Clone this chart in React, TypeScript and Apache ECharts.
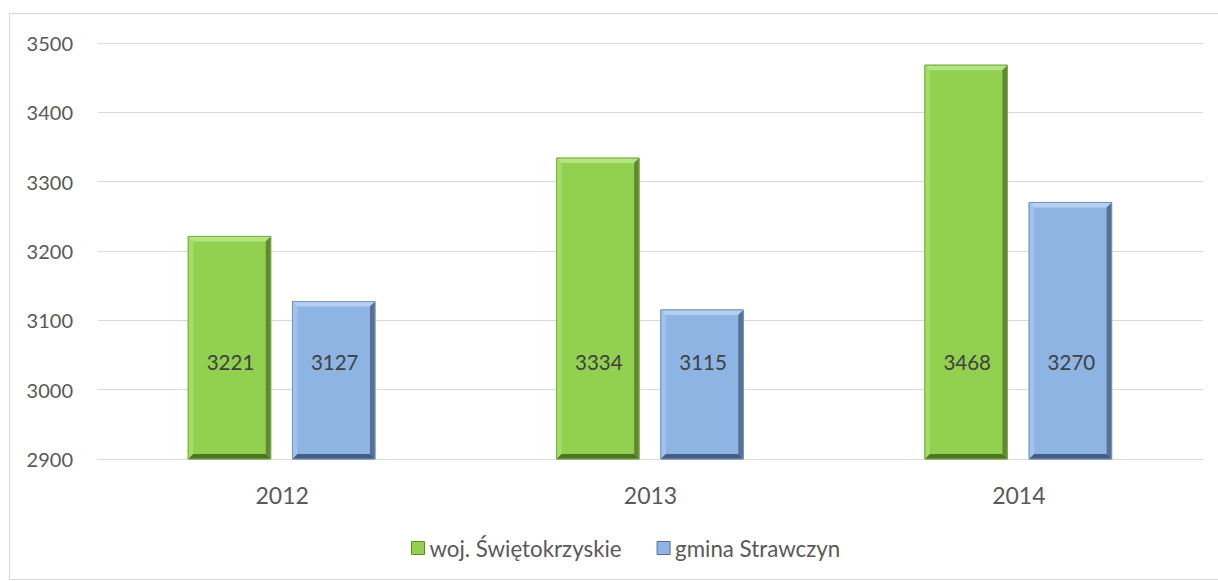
import React, { useEffect, useRef } from "react";
import * as echarts from "echarts";

const categories = ["2012", "2013", "2014"];
const wojValues = [3221, 3334, 3468];
const gminaValues = [3127, 3115, 3270];
const seriesNames = ["woj. Świętokrzyskie", "gmina Strawczyn"];

const AXIS_MIN = 2900;
const AXIS_MAX = 3500;
const LABEL_VALUE = 3040;

const FONT = "Lato, 'Open Sans', sans-serif";

type Pal = { main: string; top: string; left: string; right: string; bottom: string; stroke: string };
const greenPal: Pal = { main: "#92D050", top: "#b5e483", left: "#a6dc6a", right: "#5d8c2f", bottom: "#4c7526", stroke: "#7fae48" };
const bluePal: Pal = { main: "#8EB4E3", top: "#b5cff0", left: "#a4c2ea", right: "#566f96", bottom: "#465c80", stroke: "#7596c0" };

function makeRender(pal: Pal, offset: number) {
  return (params: any, api: any) => {
    const idx = api.value(0);
    const val = api.value(1);
    const base = api.coord([idx, AXIS_MIN]);
    const top = api.coord([idx, val]);
    const lab = api.coord([idx, LABEL_VALUE]);
    const band = api.size([1, 0])[0];
    const w = band * 0.224;
    const cx = base[0] + offset * band;
    const x0 = cx - w / 2;
    const x1 = cx + w / 2;
    const y0 = top[1];
    const y1 = base[1];
    const b = 5;
    return {
      type: "group",
      children: [
        { type: "rect", shape: { x: x0, y: y0, width: w, height: y1 - y0 }, style: { fill: pal.main, stroke: pal.stroke, lineWidth: 1 } },
        { type: "polygon", shape: { points: [[x0, y0], [x1, y0], [x1 - b, y0 + b], [x0 + b, y0 + b]] }, style: { fill: pal.top } },
        { type: "polygon", shape: { points: [[x0, y0], [x0 + b, y0 + b], [x0 + b, y1 - b], [x0, y1]] }, style: { fill: pal.left } },
        { type: "polygon", shape: { points: [[x1, y0], [x1, y1], [x1 - b, y1 - b], [x1 - b, y0 + b]] }, style: { fill: pal.right } },
        { type: "polygon", shape: { points: [[x0, y1], [x0 + b, y1 - b], [x1 - b, y1 - b], [x1, y1]] }, style: { fill: pal.bottom } },
        { type: "rect", shape: { x: x0, y: y0, width: w, height: y1 - y0 }, style: { fill: "none", stroke: pal.stroke, lineWidth: 1 } },
        {
          type: "text",
          x: cx + 1,
          y: lab[1],
          style: { text: String(val), fill: "#404040", font: `20.5px ${FONT}`, align: "center", verticalAlign: "middle" },
        },
      ],
    };
  };
}

export default function App() {
  const ref = useRef<HTMLDivElement>(null);
  useEffect(() => {
    if (!ref.current) return;
    const chart = echarts.init(ref.current, undefined, { renderer: "svg" });
    chart.setOption({
      animation: false,
      backgroundColor: "#ffffff",
      textStyle: { fontFamily: FONT },
      graphic: [
        { type: "rect", shape: { x: 9.5, y: 13.5, width: 1220, height: 566 }, style: { fill: "none", stroke: "#d9d9d9", lineWidth: 1 }, silent: true },
      ],
      grid: { left: 98, right: 15, top: 43, bottom: 122 },
      legend: {
        bottom: 17,
        left: 406,
        itemWidth: 13,
        itemHeight: 13,
        itemGap: 35,
        icon: "rect",
        textStyle: { fontSize: 22.3, color: "#595959", fontFamily: FONT },
        data: [
          { name: seriesNames[0], itemStyle: { color: greenPal.main, borderColor: greenPal.right, borderWidth: 1 } },
          { name: seriesNames[1], itemStyle: { color: bluePal.main, borderColor: bluePal.right, borderWidth: 1 } },
        ],
      },
      xAxis: {
        type: "category",
        data: categories,
        axisLine: { lineStyle: { color: "#d9d9d9", width: 1 } },
        axisTick: { show: false },
        axisLabel: { fontSize: 23, color: "#595959", margin: 24, fontFamily: FONT },
      },
      yAxis: {
        type: "value",
        min: AXIS_MIN,
        max: AXIS_MAX,
        interval: 100,
        axisLine: { show: false },
        axisTick: { show: false },
        axisLabel: { fontSize: 20, color: "#595959", margin: 25, fontFamily: FONT, formatter: (v: number) => String(v) },
        splitLine: { lineStyle: { color: "#d9d9d9", width: 1 } },
      },
      series: [
        {
          name: seriesNames[0],
          type: "custom",
          itemStyle: { color: greenPal.main },
          renderItem: makeRender(greenPal, -0.143),
          encode: { x: 0, y: 1 },
          data: wojValues.map((v, i) => [i, v]),
          z: 3,
        },
        {
          name: seriesNames[1],
          type: "custom",
          itemStyle: { color: bluePal.main },
          renderItem: makeRender(bluePal, 0.14),
          encode: { x: 0, y: 1 },
          data: gminaValues.map((v, i) => [i, v]),
          z: 3,
        },
      ],
    });
    return () => chart.dispose();
  }, []);
  return <div ref={ref} style={{ position: "fixed", left: 0, top: 0, width: 1218, height: 581 }} />;
}
